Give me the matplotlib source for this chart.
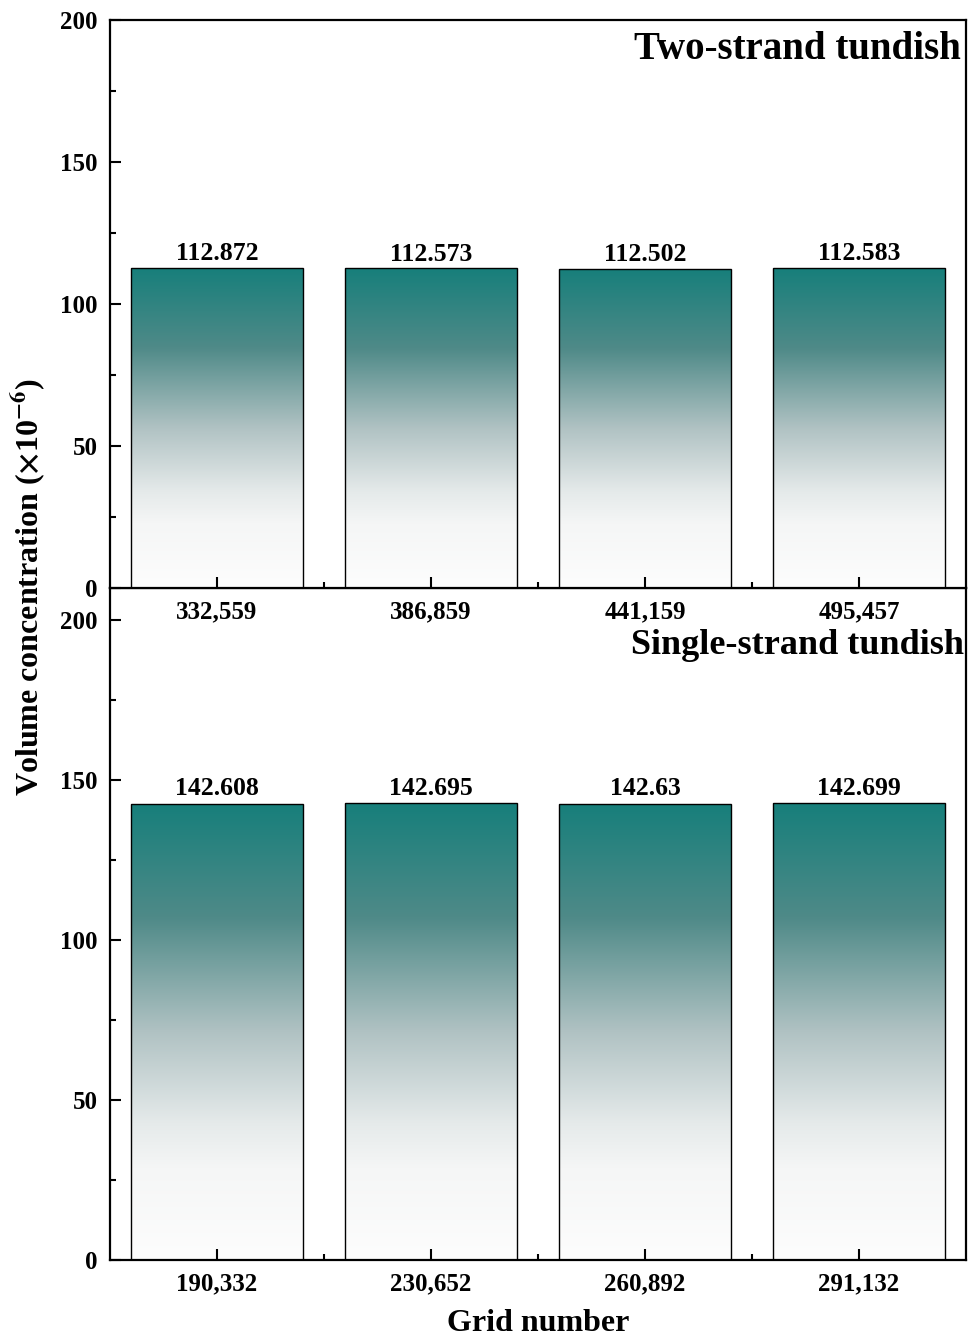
import matplotlib.pyplot as plt
import numpy as np
from matplotlib.colors import LinearSegmentedColormap
from matplotlib.ticker import MultipleLocator, FixedLocator

plt.rcParams['font.family'] = ['Liberation Serif', 'DejaVu Serif']
plt.rcParams['font.weight'] = 'bold'
plt.rcParams['mathtext.fontset'] = 'stix'

# Grid independence data
two_grids = ["332,559", "386,859", "441,159", "495,457"]
two_values = [112.872, 112.573, 112.502, 112.583]
two_labels = ["112.872", "112.573", "112.502", "112.583"]

single_grids = ["190,332", "230,652", "260,892", "291,132"]
single_values = [142.608, 142.695, 142.63, 142.699]
single_labels = ["142.608", "142.695", "142.63", "142.699"]

# white at the base, teal at the top of each bar
grad = LinearSegmentedColormap.from_list(
    "teal_fade",
    [(0.0, "#fdfdfd"), (0.2, "#f5f6f6"), (0.3, "#e5eaea"),
     (0.5, "#b0c2c3"), (0.75, "#4f8a88"), (1.0, "#177f7b")])


def gradient_bars(ax, grids, values, labels, ymax, title, title_pos, title_size):
    x = np.arange(1, len(values) + 1)
    bars = ax.bar(x, values, width=0.8, facecolor="none",
                  edgecolor="black", linewidth=1.0, zorder=1.5)
    img = np.linspace(0, 1, 256).reshape(-1, 1)
    for b in bars:
        x0, y0 = b.get_x(), b.get_y()
        im = ax.imshow(img, cmap=grad, origin="lower", aspect="auto",
                       extent=[x0, x0 + b.get_width(), y0, y0 + b.get_height()],
                       zorder=1)
        im.set_clip_path(b)
    for xi, v, lab in zip(x, values, labels):
        ax.text(xi, v + 1.0, lab, ha="center", va="bottom",
                fontsize=18.5, fontweight="bold")

    ax.set_xlim(0.5, 4.5)
    ax.set_ylim(0, ymax)
    ax.set_xticks(x)
    ax.set_xticklabels(grids)
    ax.xaxis.set_minor_locator(FixedLocator([1.5, 2.5, 3.5]))
    ax.set_yticks([0, 50, 100, 150, 200])
    ax.yaxis.set_minor_locator(MultipleLocator(25))
    ax.tick_params(axis="both", which="major", direction="in", length=8,
                   width=1.5, labelsize=18, pad=9)
    ax.tick_params(axis="both", which="minor", direction="in", length=4,
                   width=1.5)
    for lab in ax.get_xticklabels() + ax.get_yticklabels():
        lab.set_fontweight("bold")
    for sp in ax.spines.values():
        sp.set_linewidth(1.6)
        sp.set_zorder(4)
    ax.text(title_pos[0], title_pos[1], title, transform=ax.transAxes,
            ha="right", va="center", fontsize=title_size, fontweight="bold")


fig = plt.figure(figsize=(9.7, 13.38), dpi=100)
ax1 = fig.add_axes([0.1134, 0.5605, 0.8825, 0.4245])
ax2 = fig.add_axes([0.1134, 0.0583, 0.8825, 0.5022])

gradient_bars(ax1, two_grids, two_values, two_labels, 200,
              "Two-strand tundish", (0.994, 0.948), 28)
gradient_bars(ax2, single_grids, single_values, single_labels, 210,
              "Single-strand tundish", (0.998, 0.914), 26)
ax1.set_zorder(3)

ax2.set_xlabel("Grid number", fontsize=23, fontweight="bold", labelpad=10)
fig.text(0.029, 0.561, r"Volume concentration ($\times$10$^{-6}$)",
         rotation=90, ha="center", va="center", fontsize=23,
         fontweight="bold")

fig.savefig("out.png", dpi=100)
